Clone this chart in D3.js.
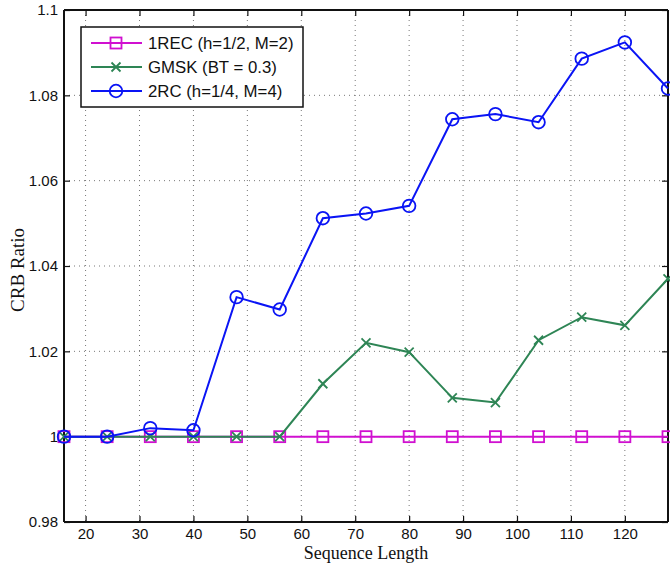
<!DOCTYPE html>
<html><head><meta charset="utf-8">
<script src="https://cdn.jsdelivr.net/npm/d3@7"></script>
<style>body{margin:0;background:#fff}</style>
</head><body>
<script>
const seqLen = [16,24,32,40,48,56,64,72,80,88,96,104,112,120,128];
const rec1 = [1,1,1,1,1,1,1,1,1,1,1,1,1,1,1];
const gmsk = [1,1,1,1,1,1,1.0124,1.0220,1.0198,1.0091,1.0080,1.0226,1.0280,1.0261,1.0370];
const rc2 = [1,1,1.0020,1.0015,1.0327,1.0298,1.0512,1.0523,1.0541,1.0744,1.0756,1.0737,1.0886,1.0924,1.0816];
const xTicks = [20,30,40,50,60,70,80,90,100,110,120];
const yTicks = [0.98,1,1.02,1.04,1.06,1.08,1.1];
const seriesNames = ["1REC (h=1/2, M=2)","GMSK (BT = 0.3)","2RC (h=1/4, M=4)"];
const seriesColors = ["#d010d0","#2e8555","#0a14f5"];
const seriesMarkers = ["square","x","circle"];
const seriesData = [rec1,gmsk,rc2];

const W=670,H=563, L=64,R=668,T=10,B=522;
const svg=d3.select("body").append("svg").attr("width",W).attr("height",H);
const x=d3.scaleLinear().domain([16,128]).range([L,R]);
const y=d3.scaleLinear().domain([0.98,1.1]).range([B,T]);

// grid
const g=svg.append("g");
g.selectAll(".gx").data(xTicks).join("line").attr("x1",d=>x(d)).attr("x2",d=>x(d)).attr("y1",T).attr("y2",B)
 .attr("stroke","#777").attr("stroke-width",1).attr("stroke-dasharray","1,4");
g.selectAll(".gy").data(yTicks).join("line").attr("x1",L).attr("x2",R).attr("y1",d=>y(d)).attr("y2",d=>y(d))
 .attr("stroke","#777").attr("stroke-width",1).attr("stroke-dasharray","1,4");

// axes
const fmtY=d=>d3.format("")(+d.toFixed(2));
const ax=svg.append("g").attr("transform",`translate(0,${B})`).call(d3.axisBottom(x).tickValues(xTicks).tickSize(-6).tickPadding(6).tickFormat(d3.format("d")));
const ay=svg.append("g").attr("transform",`translate(${L},0)`).call(d3.axisLeft(y).tickValues(yTicks).tickSize(-6).tickPadding(6).tickFormat(fmtY));
const axt=svg.append("g").attr("transform",`translate(0,${T})`).call(d3.axisTop(x).tickValues(xTicks).tickSize(-6).tickFormat(""));
const ayr=svg.append("g").attr("transform",`translate(${R},0)`).call(d3.axisRight(y).tickValues(yTicks).tickSize(-6).tickFormat(""));
[ax,ay,axt,ayr].forEach(a=>{
  a.select(".domain").attr("stroke","#111").attr("stroke-width",2);
  a.selectAll(".tick line").attr("stroke","#111").attr("stroke-width",1.2);
  a.selectAll("text").attr("font-family","'Liberation Sans', Arial, sans-serif").attr("font-size",15).attr("fill","#111");
});
ax.selectAll("path.domain").attr("d",`M${L},0H${R}`);
ay.selectAll("path.domain").attr("d",`M0,${T}V${B}`);
axt.selectAll("path.domain").attr("d",`M${L},0H${R}`);
ayr.selectAll("path.domain").attr("d",`M0,${T}V${B}`);

function drawMarker(sel,type,color,cx,cy){
  if(type==="square") sel.append("rect").attr("x",cx-5.5).attr("y",cy-5.5).attr("width",11).attr("height",11).attr("fill","none").attr("stroke",color).attr("stroke-width",1.8);
  else if(type==="circle") sel.append("circle").attr("cx",cx).attr("cy",cy).attr("r",6.3).attr("fill","none").attr("stroke",color).attr("stroke-width",1.8);
  else { sel.append("path").attr("d",`M${cx-4.5},${cy-4.5}L${cx+4.5},${cy+4.5}M${cx-4.5},${cy+4.5}L${cx+4.5},${cy-4.5}`).attr("stroke",color).attr("stroke-width",1.8); }
}

const line=d3.line().x((d,i)=>x(seqLen[i])).y(d=>y(d));
const plot=svg.append("g");
seriesData.forEach((data,k)=>{
  const gs=plot.append("g");
  gs.append("path").attr("d",line(data)).attr("fill","none").attr("stroke",seriesColors[k]).attr("stroke-width",2);
  data.forEach((v,i)=>drawMarker(gs,seriesMarkers[k],seriesColors[k],x(seqLen[i]),y(v)));
});

// legend
const lg=svg.append("g");
lg.append("rect").attr("x",81).attr("y",27).attr("width",222).attr("height",80).attr("fill","#fff").attr("stroke","#111").attr("stroke-width",1.5);
seriesNames.forEach((n,k)=>{
  const yy=43+k*24;
  lg.append("line").attr("x1",91).attr("x2",142).attr("y1",yy).attr("y2",yy).attr("stroke",seriesColors[k]).attr("stroke-width",2);
  drawMarker(lg,seriesMarkers[k],seriesColors[k],116,yy);
  lg.append("text").attr("x",148).attr("y",yy+6).text(n).attr("font-family","'Liberation Sans', Arial, sans-serif").attr("font-size",16.8).attr("fill","#111");
});

// axis labels
svg.append("text").attr("x",(L+R)/2).attr("y",559).attr("text-anchor","middle").text("Sequence Length")
 .attr("font-family","'Liberation Serif', 'DejaVu Serif', serif").attr("font-size",18).attr("fill","#111");
svg.append("text").attr("transform",`translate(24,${(T+B)/2+4}) rotate(-90)`).attr("text-anchor","middle").text("CRB Ratio")
 .attr("font-family","'Liberation Serif', 'DejaVu Serif', serif").attr("font-size",19).attr("fill","#111");
</script>
</body></html>
